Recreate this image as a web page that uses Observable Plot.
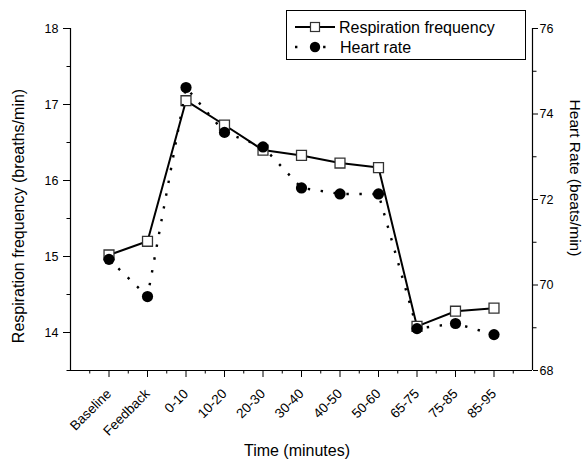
<!DOCTYPE html>
<html>
<head>
<meta charset="utf-8">
<script src="https://cdn.jsdelivr.net/npm/d3@7"></script>
<script src="https://cdn.jsdelivr.net/npm/@observablehq/plot@0.6"></script>
<style>
  html, body { margin: 0; padding: 0; background: #fff; }
  svg { display: block; }
</style>
</head>
<body>
<div id="chart"></div>
<script>
const labels = ["Baseline","Feedback","0-10","10-20","20-30","30-40","40-50","50-60","65-75","75-85","85-95"];
const respiration = [15.02, 15.2, 17.05, 16.73, 16.40, 16.33, 16.23, 16.17, 14.08, 14.28, 14.32];
const heartRate = [70.6, 69.73, 74.62, 73.57, 73.23, 72.27, 72.13, 72.13, 68.98, 69.1, 68.84];
const leftTicks = [14, 15, 16, 17, 18];
const rightTicks = [68, 70, 72, 74, 76];
const leftDomain = [13.5, 18];
const rightDomain = [68, 76];

const toLeft = h => leftDomain[0] + (h - rightDomain[0]) * (leftDomain[1] - leftDomain[0]) / (rightDomain[1] - rightDomain[0]);
const fromLeft = v => rightDomain[0] + (v - leftDomain[0]) * (rightDomain[1] - rightDomain[0]) / (leftDomain[1] - leftDomain[0]);

const resp = respiration.map((v, i) => ({x: i + 1, y: v}));
const hr = heartRate.map((v, i) => ({x: i + 1, y: toLeft(v)}));

const leftMinor = d3.range(13.5, 18, 1);
const rightMinor = [69, 71, 73, 75].map(toLeft);
const xMinor = d3.range(0.5, 12, 1);

const W = 583, H = 461;
const chart = Plot.plot({
  width: W, height: H,
  marginLeft: 70, marginRight: 51, marginTop: 28, marginBottom: 91,
  style: {fontFamily: "'Liberation Sans', Arial, sans-serif", fontSize: "12px", color: "#000", background: "#fff"},
  x: {type: "linear", domain: [0, 12]},
  y: {type: "linear", domain: leftDomain},
  marks: [
    Plot.axisY(leftTicks, {anchor: "left", tickSize: 7, tickPadding: 5, fontSize: 12.5, tickFormat: d => String(d), label: null}),
    Plot.axisY(leftMinor, {anchor: "left", tickSize: 3.5, tickFormat: () => "", label: null}),
    Plot.axisY(rightTicks.map(toLeft), {anchor: "right", tickSize: 5, tickPadding: 2, fontSize: 12.5, tickFormat: v => String(Math.round(fromLeft(v))), label: null}),
    Plot.axisY(rightMinor, {anchor: "right", tickSize: 3.5, tickFormat: () => "", label: null}),
    Plot.axisX(d3.range(1, 12), {anchor: "bottom", tickSize: 7, tickPadding: 14, fontSize: 13.5, tickRotate: -45, tickFormat: i => labels[i - 1], label: null}),
    Plot.axisX(xMinor, {anchor: "bottom", tickSize: 3.5, tickFormat: () => "", label: null}),
    Plot.ruleX([0, 12], {stroke: "#000", strokeWidth: 1.2}),
    Plot.ruleY([leftDomain[0]], {stroke: "#000", strokeWidth: 1.2}),
    Plot.line(resp, {x: "x", y: "y", stroke: "#000", strokeWidth: 2}),
    Plot.dot(resp, {x: "x", y: "y", symbol: "square", r: 5.6, fill: "#fff", stroke: "#333", strokeWidth: 1.3}),
    Plot.line(hr, {x: "x", y: "y", stroke: "#000", strokeWidth: 2.4, strokeLinecap: "butt", strokeDasharray: "2.4,10.6"}),
    Plot.dot(hr, {x: "x", y: "y", r: 5.6, fill: "#000", stroke: "none"})
  ]
});
document.getElementById("chart").appendChild(chart);

const svg = d3.select(chart);
const font = "'Liberation Sans', Arial, sans-serif";
svg.append("text").attr("transform", "translate(24,216) rotate(-90)")
  .attr("text-anchor", "middle").attr("font-family", font).attr("font-size", 16).attr("fill", "#000")
  .text("Respiration frequency (breaths/min)");
svg.append("text").attr("transform", "translate(570,178) rotate(90)")
  .attr("text-anchor", "middle").attr("font-family", font).attr("font-size", 15.5).attr("fill", "#000")
  .text("Heart Rate (beats/min)");
svg.append("text").attr("x", 297).attr("y", 456)
  .attr("text-anchor", "middle").attr("font-family", font).attr("font-size", 16).attr("fill", "#000")
  .text("Time (minutes)");

// legend
const lg = svg.append("g").attr("text-anchor", "start");
lg.append("rect").attr("x", 286.5).attr("y", 10.5).attr("width", 239).attr("height", 49)
  .attr("fill", "#fff").attr("stroke", "#000").attr("stroke-width", 1);
lg.append("line").attr("x1", 295).attr("x2", 335).attr("y1", 27).attr("y2", 27).attr("stroke", "#000").attr("stroke-width", 2);
lg.append("rect").attr("x", 310.5).attr("y", 22.5).attr("width", 9).attr("height", 9).attr("fill", "#fff").attr("stroke", "#333").attr("stroke-width", 1.2);
lg.append("text").attr("x", 339).attr("y", 33).attr("text-anchor", "start").attr("font-family", font).attr("font-size", 16).attr("fill", "#000").text("Respiration frequency");
lg.append("line").attr("x1", 295).attr("x2", 325.5).attr("y1", 47).attr("y2", 47).attr("stroke", "#000").attr("stroke-width", 2.4).attr("stroke-dasharray", "2.4,25.7,2.4");
lg.append("circle").attr("cx", 315).attr("cy", 47).attr("r", 5.2).attr("fill", "#000");
lg.append("text").attr("x", 340).attr("y", 53).attr("text-anchor", "start").attr("font-family", font).attr("font-size", 16).attr("fill", "#000").text("Heart rate");
</script>
</body>
</html>
